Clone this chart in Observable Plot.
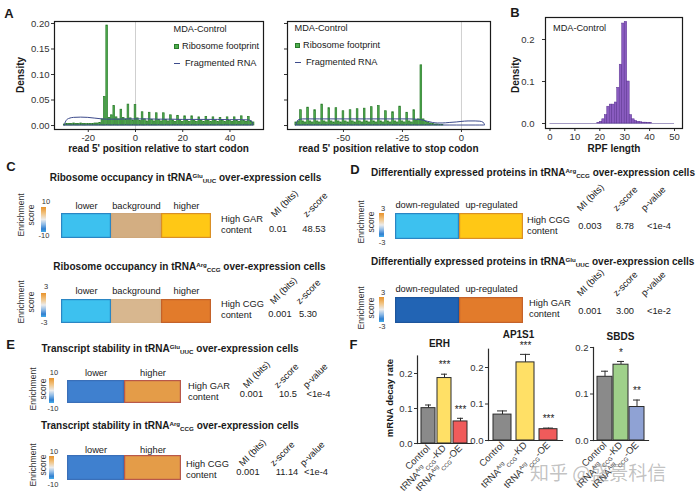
<!DOCTYPE html>
<html><head><meta charset="utf-8">
<script src="https://cdn.jsdelivr.net/npm/d3@7"></script>
<script src="https://cdn.jsdelivr.net/npm/@observablehq/plot@0.6"></script>
<style>
body{margin:0;background:#fff;}
#fig{position:relative;width:700px;height:500px;overflow:hidden;font-family:"Liberation Sans",Arial,Helvetica,sans-serif;color:#111;background:#fff;}
.t{position:absolute;white-space:nowrap;line-height:1;}
.p{position:absolute;}
.t sup,.t sub{font-size:62%;position:relative;vertical-align:baseline;line-height:0;}
.t sup{top:-0.55em;}
.t sub{top:0.3em;}
.cb{position:absolute;background:linear-gradient(to bottom,#e8922a 0%,#f1c27f 25%,#ececec 50%,#8cb9e6 70%,#2f7fd0 88%,#46aee9 100%);}
</style></head><body><div id="fig"></div>
<script>
// ================= DATA =================
// Panel A – ribosome footprint density by read 5' position (start codon), positions -30..50
const startFirstPos = -30;
const startFootprint = [
  0.002,0.003,0.003,0.003,0.004,0.003,0.003,0.004,0.003,0.003,0.003,0.003,0.003,0.004,0.004,0.005,0.012,
  0.056,0.196,0.015,0.020,0.038,0.016,0.012,0.031,0.015,0.012,0.041,0.014,0.010,
  0.040,0.014,0.009, 0.026,0.012,0.008, 0.025,0.011,0.008, 0.024,0.011,0.008, 0.024,0.011,0.008,
  0.020,0.010,0.007, 0.019,0.010,0.007, 0.018,0.010,0.007, 0.018,0.009,0.007, 0.016,0.009,0.007,
  0.017,0.009,0.007, 0.016,0.009,0.007, 0.015,0.009,0.007, 0.016,0.009,0.007, 0.016,0.009,0.007,
  0.018,0.009,0.007, 0.017,0.008,0.006
];
const startFragPos  = [-30,-29.5,-29,-28,-26,-23,-20,-17,-14,-12,-8,-4,0,5,10,15,20,25,30,35,40,45,48,49.5,50];
const startFragDens = [0,0.006,0.010,0.013,0.015,0.0155,0.015,0.0135,0.012,0.0115,0.0115,0.012,0.012,0.012,0.0115,0.0115,0.011,0.011,0.011,0.011,0.0105,0.0105,0.010,0.007,0];
// Panel A – stop codon, positions -70..10
const stopFirstPos = -70;
const stopFootprint = [
  0.006,0.008,
  0.030,0.008,0.006, 0.035,0.008,0.006, 0.030,0.008,0.006, 0.041,0.008,0.006, 0.034,0.008,0.006,
  0.034,0.008,0.006, 0.028,0.008,0.006, 0.030,0.008,0.006, 0.032,0.008,0.006, 0.033,0.008,0.006,
  0.036,0.008,0.006, 0.038,0.008,0.006, 0.028,0.008,0.006, 0.026,0.008,0.006, 0.037,0.008,0.006,
  0.025,0.008,0.006, 0.030,0.010,0.012,
  0.118,
  0.012,0.007,0.005,0.004,0.003,0.002,0.002,0.001,0.001,
  0,0,0,0,0,0,0,0,0,0,0,0,0,0,0,0,0,0
];
const stopFragPos  = [-70,-69.5,-69,-67,-60,-50,-40,-30,-22,-18,-16,-14,-12,-10,-8,-5,-2,0,3,6,8,9.5,10];
const stopFragDens = [0,0.006,0.010,0.012,0.012,0.012,0.012,0.012,0.012,0.011,0.0095,0.007,0.005,0.004,0.004,0.005,0.006,0.007,0.008,0.008,0.0075,0.005,0];
const startTicks = [-20,0,20,40], stopTicks = [-50,-25,0], densTicks = [0,0.05,0.10,0.15,0.20];
// Panel B – RPF length histogram, bins [L, L+1)
const rpfLength = [19,20,21,22,23,24,25,26,27,28,29,30,31,32,33,34,35,36,37,38,39,40];
const rpfDensity = [0.001,0.004,0.010,0.020,0.040,0.045,0.045,0.050,0.085,0.140,0.238,0.242,0.100,0.020,0.010,0.006,0.004,0.003,0.002,0.002,0.001,0.001];
const rpfTicks = [0,10,20,30,40,50], rpfDensTicks = [0,0.1,0.2];
// Panel C – iPAGE ribosome occupancy
const cLevels = ["lower","background","higher"];
const cTitles = ["Ribosome occupancy in tRNA^{Glu}_{UUC} over-expression cells","Ribosome occupancy in tRNA^{Arg}_{CCG} over-expression cells"];
const cFeature = ["High GAR","High CGG"];
const cScale = [["10","-10"],["3","-3"]];
const cMI = ["0.01","0.001"], cZ = ["48.53","5.30"];
// Panel D – differentially expressed proteins
const dLevels = ["down-regulated","up-regulated"];
const dTitles = ["Differentially expressed proteins in tRNA^{Arg}_{CCG} over-expression cells","Differentially expressed proteins in tRNA^{Glu}_{UUC} over-expression cells"];
const dFeature = ["High CGG","High GAR"];
const dMI = ["0.003","0.001"], dZ = ["8.78","3.00"], dP = ["<1e-4","<1e-2"];
// Panel E – transcript stability
const eLevels = ["lower","higher"];
const eTitles = ["Transcript stability in tRNA^{Glu}_{UUC} over-expression cells","Transcript stability in tRNA^{Arg}_{CCG} over-expression cells"];
const eFeature = ["High GAR","High CGG"];
const eMI = ["0.001","0.001"], eZ = ["10.5","11.14"], eP = ["<1e-4","<1e-4"];
// Panel F – mRNA decay rate
const fGenes = ["ERH","AP1S1","SBDS"];
const fGroups = ["Control","tRNA^{Arg}_{CCG}-KD","tRNA^{Arg}_{CCG}-OE"];
const erhRate = [0.101,0.187,0.063],  erhErr = [0.009,0.011,0.009],  erhSig = ["","***","***"];
const ap1Rate = [0.071,0.214,0.031],  ap1Err = [0.010,0.022,0.003],  ap1Sig = ["","***","***"];
const sbdsRate = [0.137,0.163,0.072], sbdsErr = [0.012,0.007,0.015], sbdsSig = ["","*","**"];

// ================= STYLE =================
const FONT = '"Liberation Sans", Arial, Helvetica, sans-serif';
const GREEN = "#4fae4f", DKGREEN = "#2a7a2a", NAVY = "#3d4b8c";
const PURPLE = "#8a5cc0", DKPURPLE = "#5a3290";
const heatTones = {
  c0: {fill:["#3dc1ef","#d3ae82","#ffc815"], stroke:["#2a86c4","#cfa87c","#d98f26"]},
  c1: {fill:["#3dc1ef","#d8b78f","#e27b2b"], stroke:["#2a86c4","#d4b38a","#c4622a"]},
  d0: {fill:["#3dc1ef","#ffc815"], stroke:["#2a86c4","#d98f26"]},
  d1: {fill:["#2264b4","#e27b2b"], stroke:["#1d559c","#c4622a"]},
  e0: {fill:["#3f80cf","#e49c48"], stroke:["#3a6fb8","#b8584a"]},
  e1: {fill:["#3f80cf","#e49c48"], stroke:["#3a6fb8","#b8584a"]}
};
const barTones = {ERH:["#8a8a8a","#ffe066","#f05b5b"], AP1S1:["#8a8a8a","#ffe066","#f05b5b"], SBDS:["#8a8a8a","#9fd08a","#8fa2d4"]};

// ================= HELPERS =================
const fig = document.getElementById("fig");
const rich = s => s.replace(/\^\{([^}]*)\}/g,'<sup>$1</sup>').replace(/_\{([^}]*)\}/g,'<sub>$1</sub>');
function T(x, y, text, o = {}) {
  const d = document.createElement("div");
  d.className = "t";
  d.innerHTML = rich(text);
  const a = o.anchor || "middle";
  d.style.left = x + "px"; d.style.top = y + "px";
  d.style.fontSize = (o.size || 9.3) + "px";
  d.style.fontWeight = o.weight || "normal";
  d.style.color = o.color || "#1a1a1a";
  if (o.family) d.style.fontFamily = o.family;
  const tx = a === "start" ? "0" : a === "end" ? "-100%" : "-50%";
  d.style.transformOrigin = a === "start" ? "0 50%" : a === "end" ? "100% 50%" : "50% 50%";
  d.style.transform = `translate(${tx},-50%) rotate(${o.rotate || 0}deg)`;
  fig.appendChild(d);
  return d;
}
function place(x, y, node, w) {
  const d = document.createElement("div");
  d.className = "p"; d.style.left = x + "px"; d.style.top = y + "px";
  if (w) d.style.width = w + "px";
  d.appendChild(node); fig.appendChild(d);
}
function box(x, y, w, h, css) {
  const d = document.createElement("div");
  d.style.position = "absolute"; d.style.left = x + "px"; d.style.top = y + "px";
  d.style.width = w + "px"; d.style.height = h + "px";
  Object.assign(d.style, css); fig.appendChild(d); return d;
}
function cbar(x, y, w, h) { const d = box(x, y, w, h, {}); d.className = "cb"; }
const baseStyle = fs => ({fontFamily: FONT, fontSize: fs + "px", color: "#333", background: "transparent", overflow: "visible", maxWidth: "none"});
const hyphen = d => String(d);
function richTicks(svg, fs) {
  const ns = "http://www.w3.org/2000/svg";
  svg.querySelectorAll('g[aria-label="x-axis tick label"] text').forEach(t => {
    const s = t.textContent;
    if (!/[\^_]\{/.test(s)) return;
    t.textContent = "";
    let shift = 0;
    for (const p of s.split(/(\^\{[^}]*\}|_\{[^}]*\})/)) {
      if (!p) continue;
      let target = 0, txt = p, small = false;
      if (p.startsWith("^{")) { target = -0.38 * fs; txt = p.slice(2, -1); small = true; }
      else if (p.startsWith("_{")) { target = 0.25 * fs; txt = p.slice(2, -1); small = true; }
      const ts = document.createElementNS(ns, "tspan");
      ts.setAttribute("dy", target - shift); shift = target;
      if (small) ts.setAttribute("font-size", fs * 0.6);
      ts.textContent = txt; t.appendChild(ts);
    }
  });
}

// ================= PANEL A =================
const startBars = startFootprint.map((v, i) => ({pos: startFirstPos + i, dens: v}));
const startFrag = startFragPos.map((p, i) => ({pos: p, dens: startFragDens[i]}));
const stopBars = stopFootprint.map((v, i) => ({pos: stopFirstPos + i, dens: v}));
const stopFrag = stopFragPos.map((p, i) => ({pos: p, dens: stopFragDens[i]}));

function footprintPlot(bars, frag, xdom, ticks, showY, w, ml, mr) {
  return Plot.plot({
    width: w, height: 160, marginLeft: ml, marginRight: mr, marginTop: 21, marginBottom: 31,
    style: baseStyle(9.5),
    x: {domain: xdom, ticks, tickSize: 3, tickPadding: 2, tickFormat: hyphen, label: null},
    y: {domain: [-0.0078, 0.2039], ticks: densTicks, tickSize: 3, tickPadding: 2, label: null,
        tickFormat: showY ? d3.format(".2f") : () => ""},
    marks: [
      Plot.ruleX([0], {stroke: "#cfcfcf", strokeWidth: 1}),
      Plot.rectY(bars, {x1: d => d.pos - 0.5, x2: d => d.pos + 0.5, y1: () => 0, y2: "dens",
        fill: GREEN, stroke: DKGREEN, strokeWidth: 0.7, insetLeft: 0.35, insetRight: 0.35}),
      Plot.areaY(frag, {x: "pos", y: "dens", fill: "none", stroke: NAVY, strokeWidth: 1, curve: "monotone-x"}),
      Plot.frame({stroke: "#1a1a1a", strokeWidth: 1.2})
    ]
  });
}
place(0, 0, footprintPlot(startBars, startFrag, [-34.3, 54.2], startTicks, true, 270, 54, 7), 270);
place(270, 0, footprintPlot(stopBars, stopFrag, [-73.7, 12.3], stopTicks, false, 225, 17, 5), 225);

T(9, 13, "A", {size: 13, weight: "bold"});
T(21, 75, "Density", {size: 10, weight: "bold", rotate: -90});
T(158.5, 149, "read 5' position relative to start codon", {size: 10, weight: "bold"});
T(388.5, 149, "read 5' position relative to stop codon", {size: 10, weight: "bold"});
// legends
function legendA(x, y) {
  T(x, y, "MDA-Control", {anchor: "start", size: 9.2});
  box(x + 0.5, y + 14, 5, 5, {background: GREEN, border: "1px solid " + DKGREEN, boxSizing: "border-box"});
  T(x + 8.5, y + 16.5, "Ribosome footprint", {anchor: "start", size: 9.2});
  box(x, y + 33, 6, 1.3, {background: NAVY});
  T(x + 11.5, y + 33.5, "Fragmented RNA", {anchor: "start", size: 9.2});
}
legendA(173.5, 30);
legendA(294.5, 29);

// ================= PANEL B =================
const rpfBars = rpfLength.map((L, i) => ({L, dens: rpfDensity[i]}));
const bPlot = Plot.plot({
  width: 220, height: 160, marginLeft: 65, marginRight: 18, marginTop: 17, marginBottom: 32,
  style: baseStyle(9.5),
  x: {domain: [-1.8, 53.2], ticks: rpfTicks, tickSize: 3, tickPadding: 2, label: null},
  y: {domain: [-0.0119, 0.2524], ticks: rpfDensTicks, tickFormat: ".1f", tickSize: 3, tickPadding: 8, label: null},
  marks: [
    Plot.ruleY([0], {x1: 0, x2: 50, stroke: "#a49cc4", strokeWidth: 1.2}),
    Plot.rectY(rpfBars, {x1: "L", x2: d => d.L + 1, y1: () => 0, y2: "dens", fill: PURPLE, stroke: DKPURPLE, strokeWidth: 0.5}),
    Plot.frame({stroke: "#1a1a1a", strokeWidth: 1.2})
  ]
});
place(480, 0, bPlot, 220);
T(515, 12, "B", {size: 13, weight: "bold"});
T(516, 75, "Density", {size: 10, weight: "bold", rotate: -90});
T(614, 149, "RPF length", {size: 10, weight: "bold"});
T(553, 29, "MDA-Control", {anchor: "start", size: 9.2});

// ================= HEATMAP HELPER =================
function heat(x, y, w, h, cats, tones, gap) {
  const rows = cats.map((c, i) => ({c, f: tones.fill[i], s: tones.stroke[i]}));
  const mt = 22;
  const p = Plot.plot({
    width: w, height: h + mt, marginTop: mt, marginBottom: 0, marginLeft: 0, marginRight: 0,
    style: Object.assign(baseStyle(9.3), {color: "#1a1a1a"}),
    x: {domain: cats, padding: 0, axis: "top", tickSize: 0, tickPadding: gap, label: null},
    color: {type: "identity"},
    marks: [Plot.cell(rows, {x: "c", fill: "f", stroke: "s", strokeWidth: 1.2, inset: 0.6})]
  });
  place(x, y - mt, p, w);
}
function enrich(x1, x2, yc) {
  T(x1, yc, "Enrichment", {size: 8.5, rotate: -90, color: "#333"});
  T(x2, yc, "score", {size: 8.5, rotate: -90, color: "#333"});
}
const hdr = (x, y, s) => T(x, y, s, {anchor: "start", rotate: -45, size: 9.3});

// ================= PANEL C =================
T(11, 166, "C", {size: 13, weight: "bold"});
const cGeo = [
  {title: 178, top: 213, h: 25, gap: 5, bar: [207, 25], hi: 202, lo: 236, en: 215, f1: 220, f2: 231, val: 230, hd: 216, xs: [278, 314], hx: [273, 305]},
  {title: 267, top: 299, h: 24, gap: 6, bar: [293, 24], hi: 287, lo: 323, en: 302, f1: 305, f2: 316, val: 315, hd: 303, xs: [280, 308], hx: [272, 298]}
];
cGeo.forEach((g, r) => {
  T(r ? 189.5 : 185.5, g.title, cTitles[r], {size: 10, weight: "bold"});
  heat(60, g.top, 152, g.h, cLevels, heatTones["c" + r], g.gap);
  enrich(20.5, 31, g.en);
  cbar(41, g.bar[0], 4.5, g.bar[1]);
  T(46, g.hi, cScale[r][0], {size: 7.5, color: "#333"});
  T(44, g.lo, cScale[r][1], {size: 7.5, color: "#333"});
  T(221, g.f1, cFeature[r], {anchor: "start"});
  T(221, g.f2, "content", {anchor: "start"});
  T(g.xs[0], g.val, cMI[r]);
  T(g.xs[1], g.val, cZ[r]);
  hdr(g.hx[0], g.hd, "MI (bits)");
  hdr(g.hx[1], g.hd, "z-score");
});

// ================= PANEL D =================
T(355, 169, "D", {size: 13, weight: "bold"});
const dGeo = [
  {title: 173, top: 213, h: 26, gap: 6, bar: [213, 24], hi: 209, lo: 243, en: 222, f1: 221, f2: 232, fx: 527, val: 227, hd: 210},
  {title: 262, top: 297, h: 26, gap: 6, bar: [297, 25], hi: 293, lo: 327, en: 308, f1: 304, f2: 315, fx: 529, val: 312, hd: 295}
];
dGeo.forEach((g, r) => {
  T(371, g.title, dTitles[r], {anchor: "start", size: 10, weight: "bold"});
  heat(395, g.top, 128, g.h, dLevels, heatTones["d" + r], g.gap);
  enrich(361, 371, g.en);
  cbar(379, g.bar[0], 4.5, g.bar[1]);
  T(383, g.hi, "3", {size: 7.5, color: "#333"});
  T(382, g.lo, "-3", {size: 7.5, color: "#333"});
  T(g.fx, g.f1, dFeature[r], {anchor: "start"});
  T(g.fx, g.f2, "content", {anchor: "start"});
  T(590, g.val, dMI[r]); T(625, g.val, dZ[r]); T(659, g.val, dP[r]);
  hdr(578.5, g.hd, "MI (bits)"); hdr(614.5, g.hd, "z-score"); hdr(643, g.hd, "p-value");
});

// ================= PANEL E =================
T(10.5, 344, "E", {size: 13, weight: "bold"});
const eGeo = [
  {title: 349, top: 380, h: 23, gap: 5, bar: [378, 25], hi: 373, lo: 409, en: 389, f1: 387, f2: 398, fx: 188, val: 395, hd: 387, xs: [251.5, 288, 318.5], hx: [244.5, 276, 304.5]},
  {title: 426, top: 455, h: 25, gap: 3, bar: [456, 23], hi: 452, lo: 485, en: 465, f1: 465, f2: 476, fx: 186, val: 473, hd: 465, xs: [248, 287, 316], hx: [241, 272, 302]}
];
eGeo.forEach((g, r) => {
  T(170, g.title, eTitles[r], {size: 10, weight: "bold"});
  heat(67, g.top, 114, g.h, eLevels, heatTones["e" + r], g.gap);
  enrich(32.5, 42.5, g.en);
  cbar(49, g.bar[0], 5, g.bar[1]);
  T(54, g.hi, "10", {size: 7.5, color: "#333"});
  T(53, g.lo, "-10", {size: 7.5, color: "#333"});
  T(g.fx, g.f1, eFeature[r], {anchor: "start"});
  T(g.fx, g.f2, "content", {anchor: "start"});
  T(g.xs[0], g.val, eMI[r]); T(g.xs[1], g.val, eZ[r]); T(g.xs[2], g.val, eP[r]);
  hdr(g.hx[0], g.hd, "MI (bits)"); hdr(g.hx[1], g.hd, "z-score"); hdr(g.hx[2], g.hd, "p-value");
});

// ================= PANEL F =================
T(353.5, 344, "F", {size: 13, weight: "bold"});
T(390, 398, "mRNA decay rate", {size: 9.5, weight: "bold", rotate: -90});
function decayPlot(gene, rate, err, sig, o) {
  const rows = fGroups.map((g, i) => ({g, v: rate[i], e: err[i], s: sig[i], c: barTones[gene][i]}));
  const p = Plot.plot({
    width: o.w, height: 170, marginLeft: o.ml, marginRight: o.mr, marginTop: o.mt, marginBottom: 170 - (o.base - 330),
    style: baseStyle(9.5),
    x: {domain: fGroups, paddingInner: o.pi, paddingOuter: o.po, label: null, tickSize: 0, tickPadding: 3, tickRotate: -45},
    y: {domain: o.dom, ticks: [0, 0.1, 0.2], tickFormat: ".1f", tickSize: 3, tickPadding: 2, label: null},
    color: {type: "identity"},
    marks: [
      Plot.ruleX(rows, {x: "g", y1: "v", y2: d => d.v + d.e, stroke: "#2b2b2b", strokeWidth: 1}),
      Plot.tickY(rows, {x: "g", y: d => d.v + d.e, stroke: "#2b2b2b", strokeWidth: 1, insetLeft: 4, insetRight: 4}),
      Plot.barY(rows, {x: "g", y1: () => 0, y2: "v", fill: "c", stroke: "#2b2b2b", strokeWidth: 1}),
      Plot.text(rows, {x: "g", y: d => d.v + d.e, text: "s", dy: -9, fontSize: 10, fill: "#222"}),
      Plot.frame({anchor: "left", stroke: "#2b2b2b", strokeWidth: 1.2}),
      Plot.frame({anchor: "bottom", stroke: "#2b2b2b", strokeWidth: 1.2})
    ]
  });
  richTicks(p, 9.5);
  place(o.x, 330, p, o.w);
  T(o.tx, o.ty, gene, {size: 10, weight: "bold"});
}
decayPlot("ERH", erhRate, erhErr, erhSig, {x: 370, w: 110, ml: 47, mr: 8, mt: 25.5, base: 443, dom: [0, 0.25], pi: 0.1, po: 0.25, tx: 439.5, ty: 344});
decayPlot("AP1S1", ap1Rate, ap1Err, ap1Sig, {x: 450, w: 115, ml: 38, mr: 3, mt: 18.75, base: 440, dom: [0, 0.25], pi: 0.2, po: 0.2, tx: 518.5, ty: 335});
decayPlot("SBDS", sbdsRate, sbdsErr, sbdsSig, {x: 560, w: 95, ml: 33, mr: 7, mt: 17, base: 440, dom: [0, 0.2], pi: 0.08, po: 0.2, tx: 620.5, ty: 337});

// watermark
T(530, 471, "知乎 @盛景科信", {anchor: "start", size: 19, color: "rgba(120,120,120,0.45)", family: '"Noto Sans CJK SC", sans-serif'});
</script></body></html>
